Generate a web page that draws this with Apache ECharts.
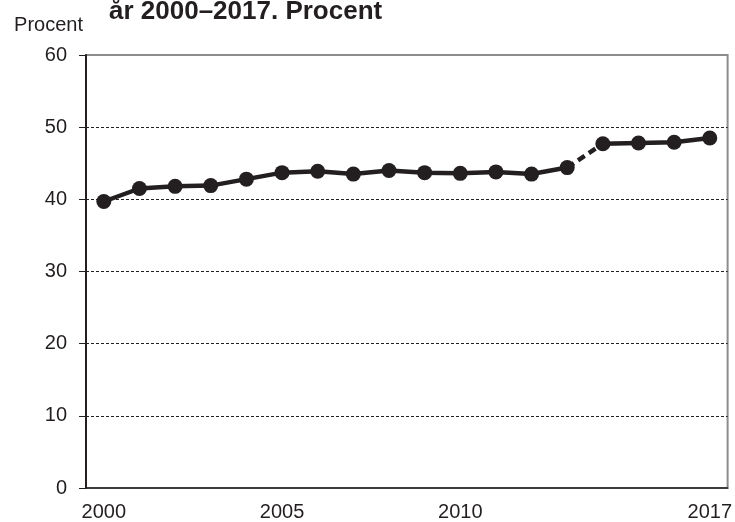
<!DOCTYPE html>
<html>
<head>
<meta charset="utf-8">
<script src="https://cdn.jsdelivr.net/npm/echarts@6/dist/echarts.min.js"></script>
<style>
  html, body { margin: 0; padding: 0; background: #fff; }
  #chart { width: 735px; height: 522px; }
</style>
</head>
<body>
<div id="chart"></div>
<script>
const years = ['2000', '2001', '2002', '2003', '2004', '2005', '2006', '2007', '2008',
  '2009', '2010', '2011', '2012', '2013', '2014', '2015', '2016', '2017']
const shares = [39.7, 41.5, 41.8, 41.9, 42.8, 43.7, 43.9, 43.5, 44.0,
  43.7, 43.6, 43.8, 43.5, 44.4, 47.7, 47.8, 47.9, 48.5]
const shownYears = ['2000', '2005', '2010', '2017']
// series is broken (dashed) between these two years
const breakFrom = '2013'
const breakTo = '2014'

const iFrom = years.indexOf(breakFrom)
const iTo = years.indexOf(breakTo)
const before = shares.map((v, i) => (i <= iFrom ? v : null))
const after = shares.map((v, i) => (i >= iTo ? v : null))
const bridge = shares.map((v, i) => (i === iFrom || i === iTo ? v : null))

const ink = '#231f20'
const font = 'Liberation Sans, Arial, sans-serif'

const chart = echarts.init(document.getElementById('chart'))
chart.setOption({
  animation: false,
  textStyle: { fontFamily: font },
  title: {
    text: 'år 2000–2017. Procent',
    left: 104,
    top: -6,
    textStyle: { fontSize: 26, fontWeight: 'bold', color: ink, fontFamily: font }
  },
  grid: { left: 86, right: 6, top: 55, bottom: 33, show: true, borderColor: '#8c8c8c', borderWidth: 2 },
  xAxis: {
    type: 'category',
    data: years,
    axisLine: { lineStyle: { color: ink, width: 1.5 } },
    axisTick: { interval: 0, length: 5, lineStyle: { color: ink } },
    axisLabel: {
      interval: 0,
      margin: 14,
      fontSize: 20,
      color: ink,
      formatter: v => (shownYears.includes(v) ? v : '')
    }
  },
  yAxis: {
    type: 'value',
    min: 0,
    max: 60,
    interval: 10,
    name: 'Procent',
    nameLocation: 'end',
    nameGap: 20,
    nameTextStyle: { fontSize: 20, color: ink, align: 'right', padding: [0, 3, 0, 0] },
    axisLine: { show: true, lineStyle: { color: ink, width: 2 } },
    axisTick: { show: true, length: 7, lineStyle: { color: ink } },
    axisLabel: { margin: 19, fontSize: 20, color: ink },
    splitLine: {
      lineStyle: {
        color: ['transparent', ink, ink, ink, ink, ink, 'transparent'],
        type: [3, 2],
        width: 1
      }
    }
  },
  series: [
    {
      type: 'line',
      data: bridge,
      symbol: 'none',
      lineStyle: { color: ink, width: 4.5, type: [8, 5] },
      z: 2
    },
    {
      type: 'line',
      data: before,
      symbol: 'circle',
      symbolSize: 15,
      itemStyle: { color: ink },
      lineStyle: { color: ink, width: 4.5 },
      z: 3
    },
    {
      type: 'line',
      data: after,
      symbol: 'circle',
      symbolSize: 15,
      itemStyle: { color: ink },
      lineStyle: { color: ink, width: 4.5 },
      z: 3
    }
  ]
})
</script>
</body>
</html>
